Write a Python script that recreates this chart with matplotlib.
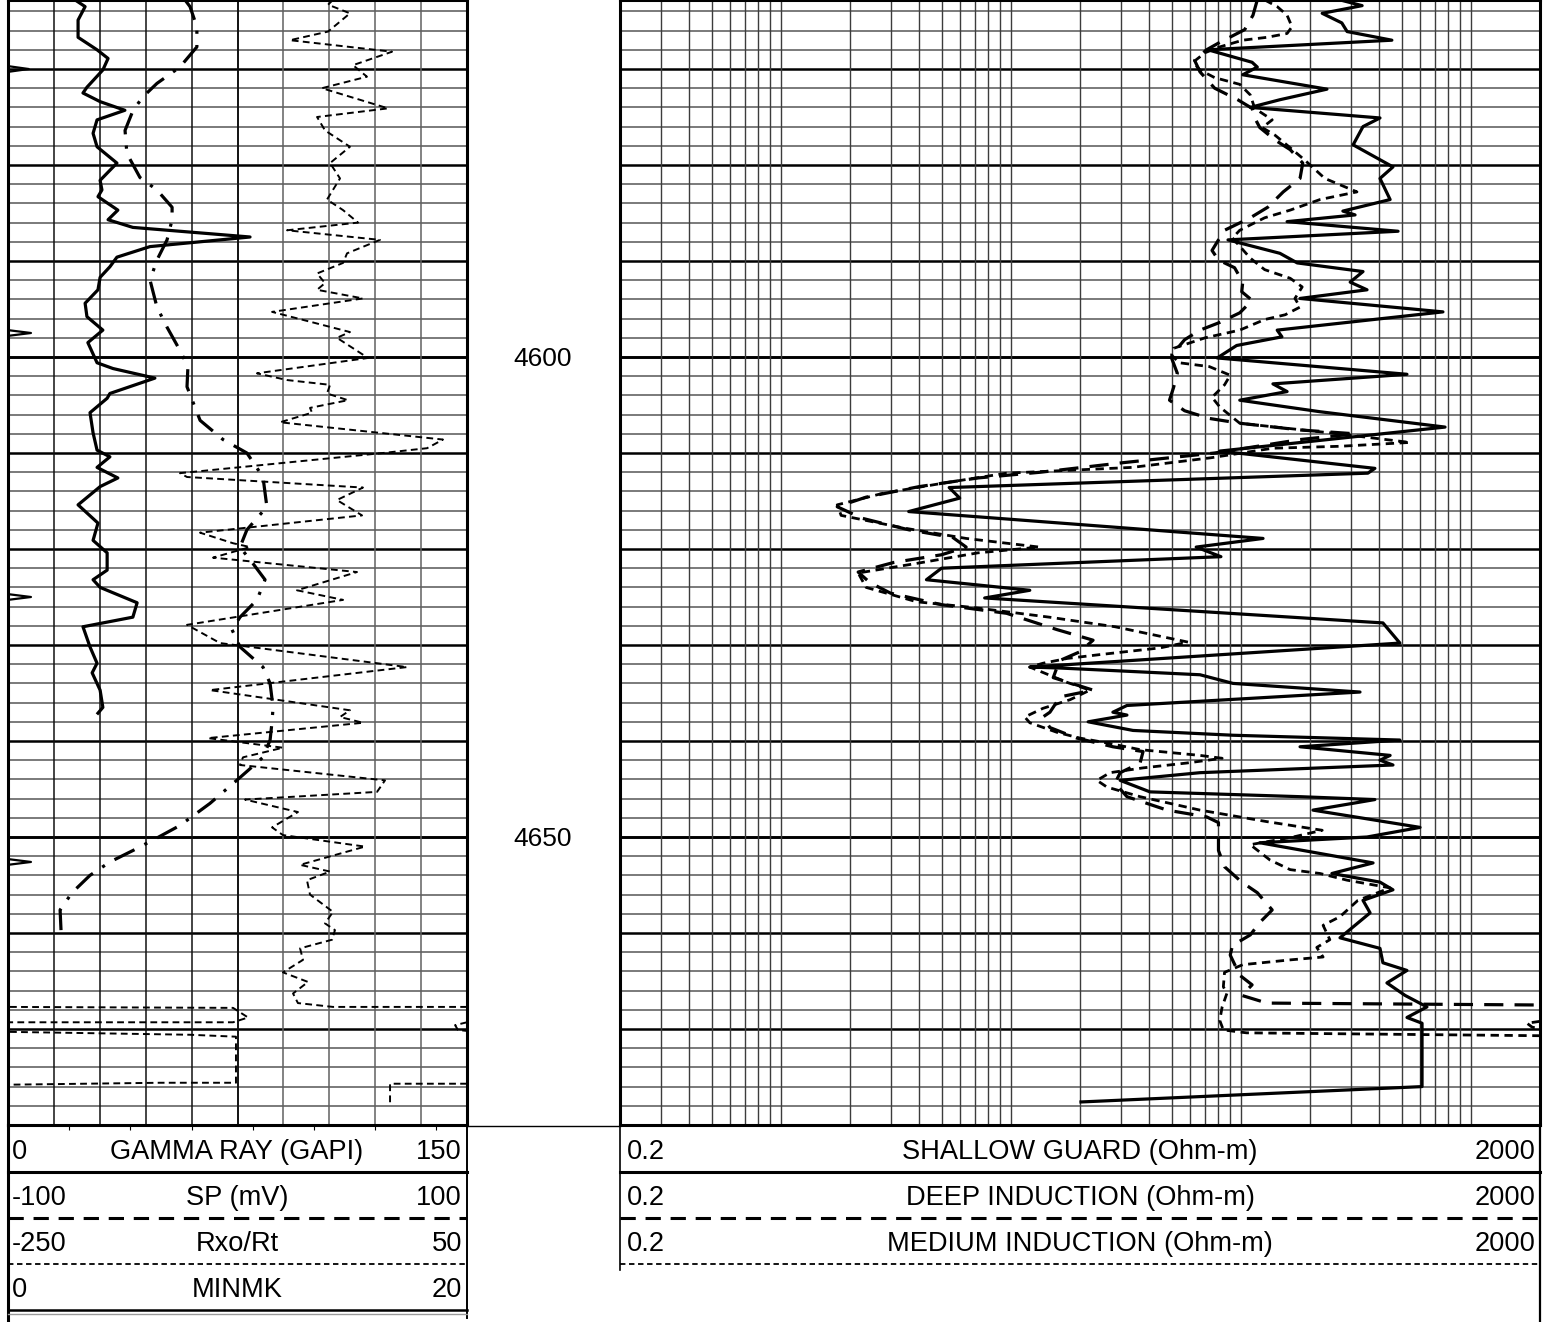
import numpy as np
import matplotlib
matplotlib.use("Agg")
import matplotlib.pyplot as plt
from matplotlib.transforms import blended_transform_factory

plt.rcParams["font.family"] = ["Liberation Sans", "DejaVu Sans"]

W, H = 1554, 1322            # output size in px
TRACK_H = 1125               # px height of the two log tracks
TOP_DEPTH = 4562.8125
BOTTOM_DEPTH = 4680.0
nan = np.nan

# ---------------- left track: GR (0-150), SP (-100..100), Rxo/Rt (-250..50), MINMK (0-20)
gr_depth = [4562.8, 4563.5, 4564.9, 4566.7, 4568.0, 4568.9, 4570.1, 4571.9, 4572.5, 4573.4,
            4574.3, 4575.3, 4576.7, 4578.1, 4579.8, 4581.6, 4582.6, 4583.3, 4584.7, 4585.7,
            4586.5, 4587.5, 4588.5, 4589.6, 4590.6, 4591.7, 4593.0, 4594.4, 4595.8, 4597.2,
            4598.5, 4600.6, 4601.2, 4602.2, 4603.8, 4604.3, 4605.8, 4607.9, 4609.7, 4610.4,
            4611.5, 4612.6, 4613.5, 4615.4, 4617.3, 4619.1, 4620.4, 4622.2, 4623.2, 4624.0,
            4625.6, 4627.1, 4628.1, 4630.2, 4631.9, 4632.9, 4634.7, 4636.5, 4637.1]
gr = [21.9, 25.2, 22.9, 22.9, 29.1, 32.7, 31.0, 25.8, 24.5, 30.1,
      38.2, 29.1, 27.8, 29.1, 35.6, 30.1, 30.7, 29.4, 35.9, 32.7,
      40.8, 79.1, 46.4, 35.6, 33.3, 30.1, 29.4, 25.2, 25.8, 31.0,
      26.1, 29.1, 34.3, 48.0, 33.3, 32.4, 26.8, 27.8, 29.1, 33.3,
      29.1, 35.9, 30.1, 22.9, 29.4, 27.8, 32.4, 32.4, 27.8, 30.1,
      42.2, 40.8, 24.5, 26.8, 29.1, 27.5, 30.1, 31.0, 29.4]

sp_depth = [4562.8, 4563.5, 4565.6, 4567.7, 4569.8, 4571.5, 4572.9, 4574.3, 4576.4, 4578.8,
            4581.3, 4582.6, 4584.4, 4585.7, 4587.8, 4589.9, 4592.0, 4594.8, 4596.9, 4599.3,
            4601.0, 4603.1, 4606.6, 4608.6, 4610.0, 4612.5, 4615.6, 4618.0, 4619.8, 4621.5,
            4623.2, 4625.3, 4627.1, 4628.4, 4630.2, 4632.3, 4634.0, 4636.5, 4638.1, 4639.9,
            4641.7, 4643.8, 4646.5, 4648.8, 4650.1, 4651.4, 4652.6, 4654.0, 4655.8, 4657.6,
            4659.7]
sp = [-22.9, -20.7, -17.7, -17.7, -25.1, -35.1, -41.2, -45.5, -49.0, -48.2,
      -42.5, -35.1, -28.5, -28.5, -30.7, -35.1, -38.1, -35.1, -30.7, -25.1,
      -21.6, -22.0, -16.3, -6.3, 4.1, 11.1, 12.8, 4.1, 1.1, 6.7,
      12.0, 8.5, 1.1, -2.4, 1.1, 11.1, 14.2, 15.5, 15.0, 14.2,
      11.1, 1.1, -12.0, -25.1, -35.1, -45.5, -55.6, -64.3, -72.1, -77.3,
      -76.9]

rxo_depth = [4562.8, 4563.3, 4564.2, 4566.1, 4567.0, 4568.2, 4569.6, 4570.8, 4572.0, 4574.1,
             4575.0, 4576.4, 4578.1, 4579.8, 4581.4, 4583.6, 4584.7, 4586.0, 4586.8, 4587.8,
             4589.2, 4590.2, 4591.3, 4592.3, 4593.0, 4593.9, 4595.3, 4597.4, 4598.0, 4600.1,
             4601.7, 4602.4, 4602.9, 4603.8, 4604.5, 4605.3, 4605.8, 4606.8, 4608.6, 4609.5,
             4610.0, 4612.1, 4612.5, 4613.6, 4614.9, 4616.5, 4618.3, 4619.4, 4619.8, 4620.9,
             4622.4, 4624.3, 4625.3, 4627.9, 4629.8, 4632.3, 4634.7, 4636.8, 4637.5, 4638.1,
             4639.7, 4640.7, 4641.7, 4642.5, 4644.1, 4645.3, 4646.1, 4647.4, 4649.0, 4649.8,
             4651.0, 4652.9, 4653.6, 4654.5, 4656.0, 4657.8, 4659.0, 4659.7, 4660.7, 4661.6,
             4662.8, 4664.1, 4665.1, 4666.3, 4667.3, 4667.7, 4667.7]
rxo = [-37.6, -40.8, -26.5, -40.8, -65.7, 1.0, -24.5, -15.4, -44.8, -1.6,
       -48.0, -42.8, -26.5, -39.5, -33.0, -41.5, -31.0, -21.2, -67.6, -6.9,
       -28.4, -31.0, -48.0, -42.8, -48.0, -18.0, -77.4, -26.5, -35.0, -14.7,
       -87.3, -67.6, -39.5, -41.5, -27.8, -52.6, -51.3, -72.2, 34.3, 23.9,
       -4.9, -137.6, -133.0, -18.0, -35.0, -18.6, -124.5, -102.9, -91.8, -116.0,
       -21.9, -61.1, -31.0, -133.0, -111.4, 10.8, -118.0, -26.5, -33.0, -18.0,
       -119.3, -70.3, -96.4, -98.4, -3.6, -8.8, -95.1, -60.5, -77.4, -70.3,
       -16.7, -59.1, -39.5, -54.6, -52.6, -37.6, -42.8, -36.3, -38.2, -59.1,
       -57.2, -70.3, -53.9, -63.7, -60.5, -37.6, 50.0]
# wrapped / off-scale pieces at the end of the log
rxo_tail_depth = [4667.7, 4667.8, 4668.8, 4669.3, 4669.3, nan,
                  4669.3, 4669.6, 4670.1, 4670.2, nan,
                  4670.3, 4670.6, 4670.8, 4675.6, 4675.6, 4675.8, nan,
                  4675.7, 4675.7, 4677.9]
rxo_tail = [-248.7, -102.9, -93.1, -102.9, -248.7, nan,
            50.0, 42.2, 44.1, 50.0, nan,
            -248.7, -131.0, -101.0, -101.0, -150.7, -248.7, nan,
            50.0, -0.3, -0.3]

mk_depth = [4562.8, 4569.7, 4570.0, 4570.3, 4597.2, 4597.5, 4597.8,
            4624.7, 4625.0, 4625.3, 4652.3, 4652.6, 4652.9, 4667.0]
mk = [0, 0, 0.9, 0, 0, 1.0, 0, 0, 1.0, 0, 0, 1.0, 0, 0]

# ---------------- right track: resistivity, log 0.2-2000
sh_depth = [4562.8, 4563.4, 4564.2, 4565.2, 4566.1, 4567.0, 4568.0, 4569.3, 4569.8, 4570.6,
            4572.1, 4573.2, 4574.0, 4575.1, 4576.0, 4577.9, 4580.2, 4581.4, 4583.6, 4584.8,
            4585.2, 4585.9, 4586.9, 4587.8, 4589.2, 4590.2, 4591.1, 4592.2, 4593.0, 4593.9,
            4595.3, 4597.2, 4597.9, 4598.8, 4600.1, 4601.8, 4602.8, 4603.6, 4604.5, 4605.7,
            4607.3, 4609.8, 4611.6, 4612.1, 4613.6, 4614.7, 4616.1, 4618.9, 4619.8, 4620.8,
            4622.0, 4623.2, 4624.3, 4625.1, 4627.7, 4629.8, 4632.3, 4632.4, 4633.1, 4634.0,
            4634.9, 4636.3, 4637.0, 4637.3, 4638.0, 4638.9, 4639.4, 4639.9, 4640.6, 4641.5,
            4642.0, 4642.5, 4643.3, 4644.1, 4645.3, 4645.8, 4646.1, 4647.2, 4649.0, 4650.0,
            4650.6, 4652.7, 4653.8, 4654.7, 4655.5, 4656.6, 4657.9, 4660.5, 4661.6, 4663.1,
            4663.9, 4665.2, 4666.5, 4667.7, 4668.8, 4669.4, 4676.0, 4677.6]
shallow = [270, 337, 226, 275, 290, 454, 72, 112, 118, 102,
           237, 148, 110, 403, 340, 308, 459, 403, 446, 278,
           314, 159, 483, 88, 148, 176, 340, 299, 354, 181,
           757, 144, 151, 96, 79, 528, 138, 159, 99, 221,
           773, 81, 383, 357, 5.4, 6.0, 3.6, 125, 64, 82,
           5.0, 4.3, 12.1, 7.7, 415, 492, 12.1, 16.4, 66.5, 92.5,
           330, 32, 27.8, 32, 21.7, 34, 92.5, 492, 181, 446,
           403, 459, 66.5, 29.9, 40.3, 181, 383, 206, 602, 354,
           121, 376, 249, 403, 459, 340, 365, 270, 403, 415,
           528, 432, 518, 645, 528, 614, 614, 20.2]

dp_depth = [4562.8, 4564.4, 4565.9, 4567.3, 4568.0, 4569.1, 4570.3, 4572.0, 4573.2, 4574.1,
            4575.1, 4576.1, 4577.4, 4578.4, 4579.8, 4581.4, 4582.8, 4584.4, 4585.5, 4586.8,
            4587.8, 4588.9, 4589.9, 4590.7, 4592.2, 4593.2, 4594.1, 4595.4, 4596.4, 4597.2,
            4598.2, 4599.1, 4600.1, 4601.7, 4603.2, 4604.5, 4605.6, 4606.4, 4606.9, 4607.6,
            4608.0, 4608.6, 4610.0, 4611.0, 4612.0, 4612.6, 4613.5, 4614.6, 4615.6, 4616.8,
            4618.0, 4618.8, 4619.8, 4620.6, 4621.4, 4622.4, 4623.5, 4624.6, 4625.8, 4626.7,
            4628.4, 4629.5, 4630.7, 4631.6, 4632.3, 4633.4, 4634.7, 4635.4, 4637.0, 4637.5,
            4638.6, 4639.7, 4640.6, 4641.1, 4642.3, 4643.3, 4644.4, 4645.8, 4647.2, 4647.9,
            4648.5, 4651.4, 4653.1, 4654.7, 4655.8, 4657.6, 4658.9, 4660.2, 4661.3, 4662.3,
            4664.4, 4665.4, 4666.5, 4667.3, 4667.5]
deep = [118, 113, 104, 80, 71, 63, 66.5, 77, 97, 112,
        115, 121, 141, 164, 186, 181, 153, 131, 110, 85,
        80, 75, 80, 94, 102, 101, 112, 99, 81, 66.5,
        57, 53, 50, 53, 51, 49, 57, 73, 99, 181,
        314, 181, 77, 31, 13.5, 7.2, 4.0, 2.35, 1.76, 2.26,
        3.6, 5.6, 6.4, 5.0, 3.1, 2.17, 2.44, 3.0, 5.0, 9.6,
        15.9, 22.8, 20, 16.4, 15.9, 15.3, 22.8, 16.4, 14.8, 13.8,
        14.8, 19.4, 27.8, 37.6, 36.5, 29.9, 28.4, 32, 47.8, 71,
        80, 80, 85, 101, 118, 137, 121, 110, 92, 90,
        99, 112, 101, 130, 2000]

md_depth = [4562.8, 4563.5, 4564.4, 4565.6, 4566.3, 4566.7, 4567.0, 4567.7, 4568.3, 4569.3,
            4570.1, 4570.9, 4571.6, 4572.7, 4574.1, 4575.3, 4576.1, 4576.9, 4578.2, 4579.5,
            4581.4, 4582.8, 4583.6, 4584.7, 4585.5, 4586.8, 4587.6, 4589.7, 4590.9, 4591.8,
            4592.7, 4593.9, 4594.8, 4595.6, 4596.1, 4597.2, 4598.0, 4599.1, 4599.8, 4600.6,
            4601.0, 4601.9, 4602.9, 4604.2, 4605.2, 4606.9, 4607.9, 4608.9, 4609.3, 4609.5,
            4610.5, 4611.5, 4612.1, 4613.1, 4614.2, 4615.4, 4616.5, 4617.8, 4618.9, 4619.8,
            4620.4, 4621.5, 4622.5, 4624.0, 4625.5, 4626.1, 4627.1, 4628.1, 4629.7, 4630.3,
            4631.0, 4631.4, 4631.9, 4632.3, 4633.3, 4633.9, 4634.7, 4635.7, 4636.6, 4637.5,
            4638.1, 4639.1, 4639.7, 4640.2, 4640.9, 4641.5, 4641.8, 4642.3, 4642.8, 4643.3,
            4644.1, 4644.8, 4645.8, 4647.2, 4648.4, 4649.3, 4650.0, 4650.8, 4652.4, 4653.4,
            4653.8, 4654.5, 4655.3, 4656.6, 4658.3, 4659.2, 4660.7, 4661.5, 4662.5, 4662.8,
            4663.3, 4664.1, 4665.6, 4666.3, 4667.7, 4669.1, 4670.1, 4670.4, 4670.7]
medium = [127, 144, 159, 167, 159, 130, 102, 81, 70, 62,
          66.5, 77, 99, 110, 115, 137, 124, 141, 164, 190,
          232, 320, 221, 164, 127, 99, 92, 110, 127, 164,
          185, 172, 181, 156, 127, 99, 70, 51, 50, 54,
          73, 90, 85, 75, 81, 99, 244, 544, 270, 138,
          74, 33.7, 9.6, 5.2, 2.78, 1.76, 1.83, 3.4, 6.4, 13.3,
          7.2, 3.9, 2.17, 2.35, 3.9, 6.9, 14.7, 28.4, 59, 44.6,
          24.4, 17.6, 13.8, 12.1, 15.3, 17.6, 22.1, 18.1, 13.8, 11.5,
          12.1, 15.9, 20, 26.2, 36.5, 66.5, 83, 58, 37.6, 27,
          23.7, 26.2, 36.5, 66.5, 130, 226, 169, 110, 134, 164,
          221, 290, 446, 323, 270, 228, 244, 214, 228, 164,
          102, 85, 84, 87, 83, 81, 84, 106, 2000]
md_hook_depth = [4669.2, 4669.4, 4669.8, 4670.0]
md_hook = [2000, 1756, 1846, 2000]

depth_labels = [4600, 4650]
left_header = [("0", "GAMMA RAY (GAPI)", "150"), ("-100", "SP (mV)", "100"),
               ("-250", "Rxo/Rt", "50"), ("0", "MINMK", "20")]
right_header = [("0.2", "SHALLOW GUARD (Ohm-m)", "2000"),
                ("0.2", "DEEP INDUCTION (Ohm-m)", "2000"),
                ("0.2", "MEDIUM INDUCTION (Ohm-m)", "2000")]

# ---------------- styles
JOIN = dict(solid_joinstyle="round", dash_joinstyle="round", dash_capstyle="butt")
SOLID = dict(color="black", lw=2.3, ls="-", **JOIN)
LONG = dict(color="black", lw=2.3, dashes=(6, 3.5), **JOIN)
DASHDOT = dict(color="black", lw=2.3, dashes=(7, 3.5, 1, 3.5), **JOIN)
SHORT = dict(color="black", lw=1.4, dashes=(3.5, 2.2), **JOIN)
MED = dict(color="black", lw=2.0, dashes=(3, 2), **JOIN)
FS = 19.6

fig = plt.figure(figsize=(W / 100, H / 100), dpi=100)


def track_box(x0, x1):
    return [x0 / W, 1 - TRACK_H / H, (x1 - x0) / W, TRACK_H / H]


ax_l = fig.add_axes(track_box(8, 467))
ax_r = fig.add_axes(track_box(620, 1540))
ax_l.set_xlim(0, 150)
ax_r.set_xscale("log")
ax_r.set_xlim(0.2, 2000)

minor_d = [d for d in range(4564, 4680, 2) if d % 10]
major_d = list(range(4570, 4680, 10))
for ax in (ax_l, ax_r):
    ax.set_ylim(BOTTOM_DEPTH, TOP_DEPTH)
    ax.tick_params(which="both", bottom=False, left=False, top=False, right=False,
                   labelbottom=False, labelleft=False)
    for s in ax.spines.values():
        s.set_linewidth(2.2)
        s.set_color("black")
        s.set_zorder(6)
    for d in minor_d:
        ax.axhline(d, color="#6a6a6a", lw=1.25, zorder=1)
    for d in major_d:
        ax.axhline(d, color="black", lw=1.8 if d % 50 else 2.1, zorder=1)

for v in range(15, 150, 15):
    ax_l.axvline(v, color="#111111" if v <= 75 else "#606060",
                 lw=1.4 if v == 75 else 1.1, zorder=1)

log_lines = [k * 10.0 ** n for n in range(-1, 4) for k in range(1, 10)]
for v in log_lines:
    if 0.2 < v < 2000:
        ax_r.axvline(v, color="#3c3c3c", lw=1.0, zorder=1)

# curves on their own scales
ax_gr = ax_l
ax_sp = ax_l.twiny()
ax_rx = ax_l.twiny()
ax_mk = ax_l.twiny()
for a, lim in ((ax_sp, (-100, 100)), (ax_rx, (-250, 50)), (ax_mk, (0, 20))):
    a.set_xlim(*lim)
    a.axis("off")

ax_gr.plot(gr, gr_depth, zorder=4, **SOLID)
ax_sp.plot(sp, sp_depth, **DASHDOT)
ax_rx.plot(rxo, rxo_depth, **SHORT)
ax_rx.plot(rxo_tail, rxo_tail_depth, **SHORT)
ax_mk.plot(mk, mk_depth, color="black", lw=1.6)

ax_r.plot(shallow, sh_depth, zorder=4, **SOLID)
ax_r.plot(deep, dp_depth, zorder=3, **LONG)
ax_r.plot(medium, md_depth, zorder=3, **MED)
ax_r.plot(md_hook, md_hook_depth, zorder=3, **MED)

# depth labels
tr = blended_transform_factory(fig.transFigure, ax_l.transData)
for d in depth_labels:
    fig.text(543 / W, d + 0.2, str(d), transform=tr, ha="center", va="center", fontsize=19)

# ---------------- header (pixel overlay)
ov = fig.add_axes([0, 0, 1, 1], zorder=10)
ov.set_xlim(0, W)
ov.set_ylim(H, 0)
ov.axis("off")
ov.patch.set_visible(False)

ov.plot([467, 620], [1126, 1126], color="black", lw=1.0)
ov.plot([8, 8], [1125, 1322], color="black", lw=2.2)
ov.plot([467, 467], [1125, 1318], color="black", lw=1.4)
ov.plot([620, 620], [1125, 1270], color="black", lw=1.2)
ov.plot([1540, 1540], [1125, 1322], color="black", lw=1.6)

row_y = [1150, 1196, 1242, 1288]
sep_styles = [dict(color="black", lw=2.2),
              dict(color="black", lw=2.2, dashes=(5, 3.2)),
              dict(color="black", lw=1.3, dashes=(3, 2)),
              dict(color="black", lw=1.8)]
for (lo, name, hi), y, sty in zip(left_header, row_y, sep_styles):
    ov.text(12, y + 2, lo, ha="left", va="center", fontsize=FS)
    ov.text(237, y + 2, name, ha="center", va="center", fontsize=FS)
    ov.text(462, y + 2, hi, ha="right", va="center", fontsize=FS)
    ov.plot([8, 467], [y + 22, y + 22], **sty)
ov.plot([8, 467], [1314, 1314], color="#9a9a9a", lw=1.0)

for (lo, name, hi), y, sty in zip(right_header, row_y, sep_styles):
    ov.text(627, y + 2, lo, ha="left", va="center", fontsize=FS)
    ov.text(1080, y + 2, name, ha="center", va="center", fontsize=FS)
    ov.text(1535, y + 2, hi, ha="right", va="center", fontsize=FS)
    ov.plot([620, 1540], [y + 22, y + 22], **sty)

fig.savefig("out.png", dpi=100, facecolor="white")
